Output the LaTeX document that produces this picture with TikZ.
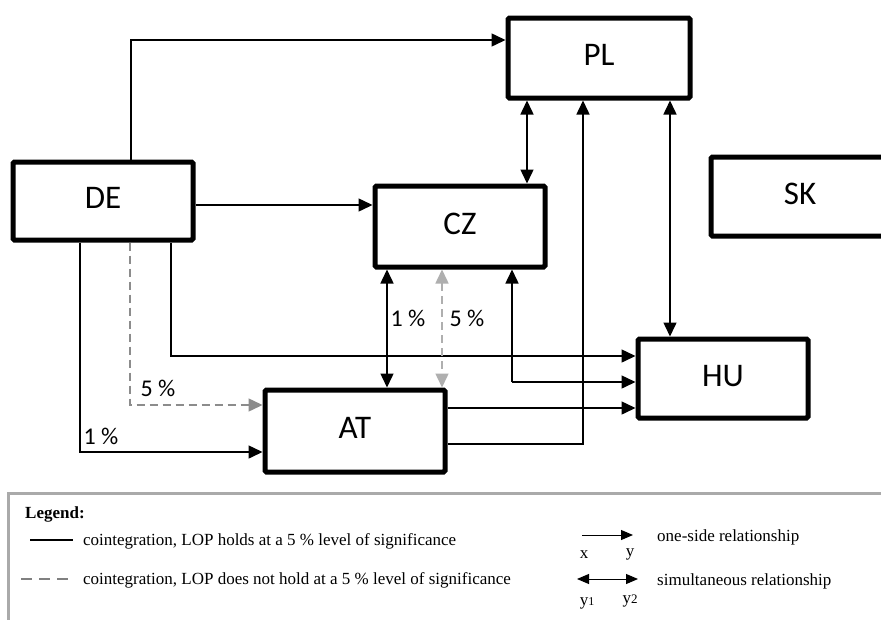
\documentclass[tikz,border=0pt]{standalone}
\usepackage{fontspec}
\setmainfont{Liberation Serif}
\newfontfamily\boxfont{Carlito}
\usetikzlibrary{arrows.meta}
\definecolor{dgrey}{RGB}{140,140,140}
\definecolor{lgrey}{RGB}{175,175,175}
\definecolor{bgrey}{RGB}{170,170,170}
\definecolor{sgrey}{RGB}{128,128,128}
\begin{document}
\begin{tikzpicture}[x=1pt,y=-1pt,
  box/.style={draw, line width=5pt, rounded corners=1.5pt, inner sep=0pt,
    text height=21pt, text depth=6pt,
    font=\boxfont\fontsize{33}{33}\selectfont},
  arr/.style={line width=1.5pt, -{Triangle[length=14pt,width=13pt]}},
  darr/.style={line width=1.5pt, {Triangle[length=14pt,width=13pt]}-{Triangle[length=14pt,width=13pt]}},
  pct/.style={inner sep=0pt, font=\boxfont\fontsize{24}{24}\selectfont},
  leg/.style={anchor=base west, inner sep=0pt, font=\fontsize{17}{17}\selectfont},
  legb/.style={anchor=base west, inner sep=0pt, font=\fontsize{17}{17}\selectfont\bfseries},
  legc/.style={inner sep=0pt, font=\fontsize{17}{17}\selectfont},
  larr/.style={line width=1pt, -{Triangle[length=12pt,width=10pt]}},
  ldarr/.style={line width=1pt, {Triangle[length=12pt,width=10pt]}-{Triangle[length=12pt,width=10pt]}}]
\clip (0,0) rectangle (881,619);
\fill[white] (0,0) rectangle (881,619);

% boxes
\node[box, minimum width=182pt, minimum height=80pt] (PL) at (599,58) {PL};
\node[box, minimum width=180pt, minimum height=78pt] (DE) at (103,201) {DE};
\node[box, minimum width=170pt, minimum height=81pt] (CZ) at (460,226.5) {CZ};
\node[box, minimum width=178pt, minimum height=79pt] (SK) at (800,196.5) {SK};
\node[box, minimum width=170pt, minimum height=79pt] (HU) at (723,378.5) {HU};
\node[box, minimum width=180pt, minimum height=82pt] (AT) at (355,431) {AT};

% connectors
\draw[arr] (131,0 |- DE.north) |- (PL.west |- 0,40);
\draw[arr] (DE.east |- 0,205) -- (CZ.west |- 0,205);
\draw[darr] (527,0 |- PL.south) -- (527,0 |- CZ.north);
\draw[darr] (670,0 |- PL.south) -- (670,0 |- HU.north);
\draw[arr] (171,0 |- DE.south) |- (HU.west |- 0,356);
\draw[dgrey, line width=1.5pt, dash pattern=on 8pt off 5pt, -{Triangle[length=14pt,width=13pt]}]
  (130,0 |- DE.south) |- (AT.west |- 0,405);
\draw[arr] (80,0 |- DE.south) |- (AT.west |- 0,452);
\draw[darr] (387,0 |- CZ.south) -- (387,0 |- AT.north);
\draw[lgrey, line width=1.5pt, dash pattern=on 8pt off 5pt, {Triangle[length=14pt,width=13pt]}-{Triangle[length=14pt,width=13pt]}]
  (442,0 |- CZ.south) -- (442,0 |- AT.north);
\coordinate (j) at (512,382);
\draw[arr] (j) -- (512,0 |- CZ.south);
\draw[arr] (j) -- (HU.west |- j);
\draw[arr] (AT.east |- 0,408) -- (HU.west |- 0,408);
\draw[arr] (AT.east |- 0,444) -| (583,0 |- PL.south);

% labels
\node[pct] (l5a) at (158,388) {5 \%};
\node[pct] (l1a) at (101,436) {1 \%};
\node[pct] (l1b) at (408,318) {1 \%};
\node[pct] (l5b) at (467,318) {5 \%};

% legend
\draw[bgrey, line width=3pt] (8,630) -- (8,493) -- (890,493);
\node[legb] (lg) at (25,518) {Legend:};
\draw[line width=2pt] (30,540) -- (73,540);
\node[leg] (lt1) at (83,545) {cointegration, LOP holds at a 5 \% level of significance};
\draw[sgrey, line width=2.5pt, dash pattern=on 11pt off 7pt] (21,579) -- (73,579);
\node[leg] (lt2) at (83,584) {cointegration, LOP does not hold at a 5 \% level of significance};
\draw[larr] (582,535) -- (633,535);
\node[leg] (lt3) at (657,541) {one-side relationship};
\node[legc] (lx) at (584,555) {x};
\node[legc] (ly) at (630,554) {y};
\draw[ldarr] (577,579) -- (638,579);
\node[leg] (lt4) at (657,585) {simultaneous relationship};
\node[legc] (ly1) at (587,603) {y{\fontsize{12}{12}\selectfont 1}};
\node[legc] (ly2) at (630,601) {y{\fontsize{13}{13}\selectfont 2}};
\end{tikzpicture}
\end{document}
